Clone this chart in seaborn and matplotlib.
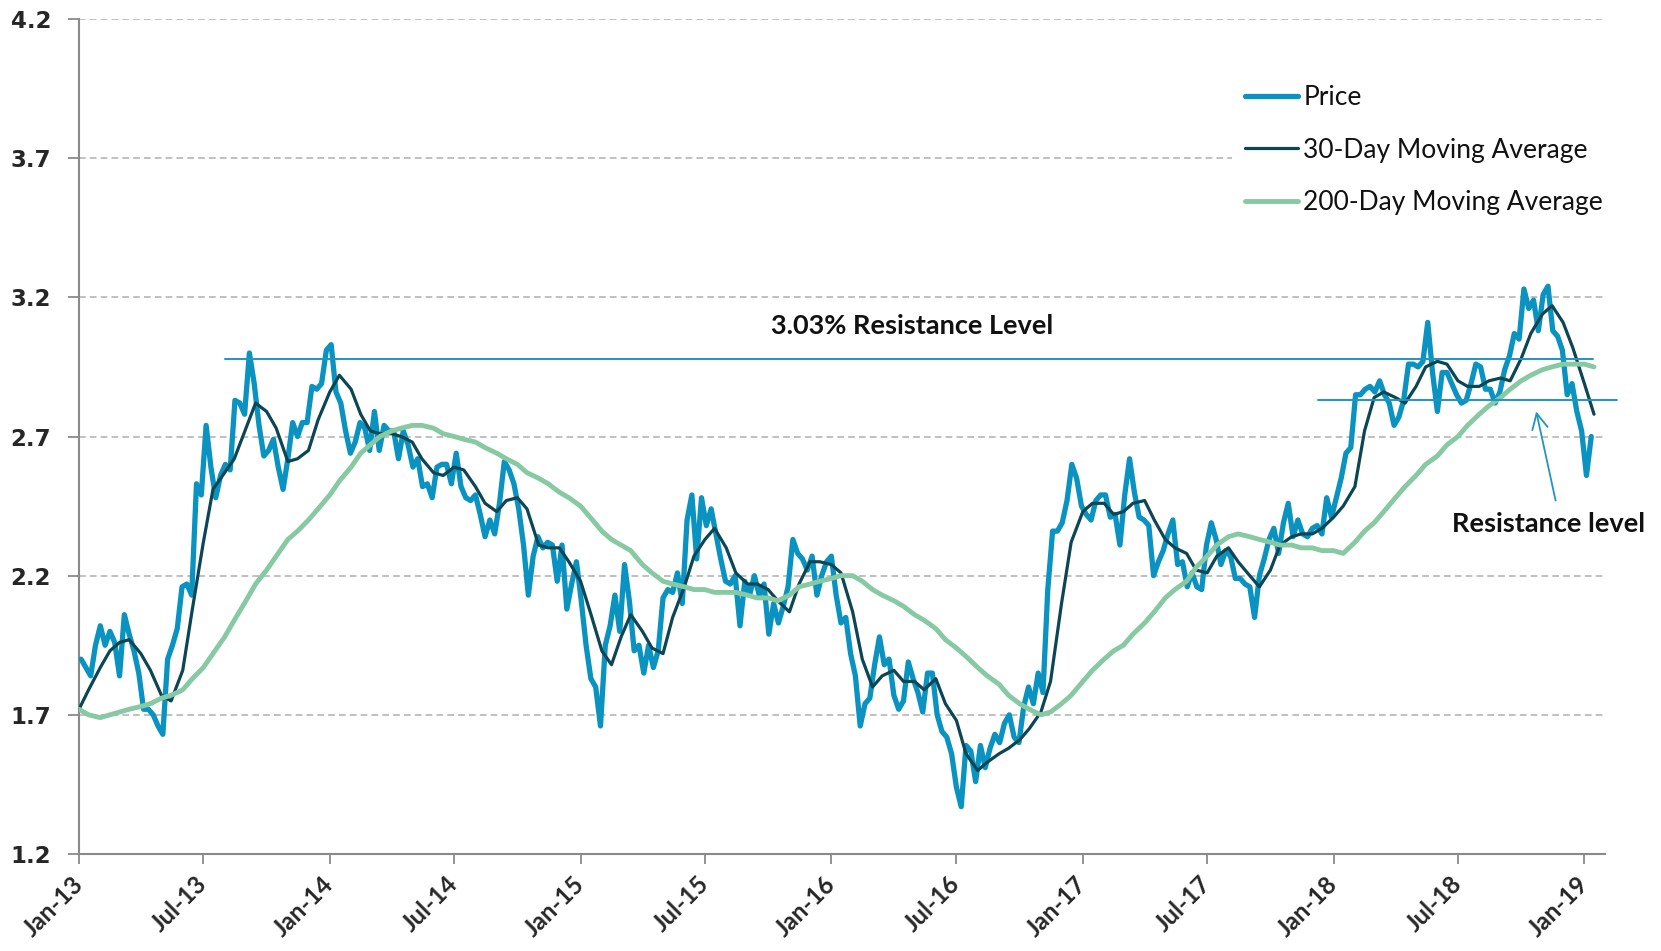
import pandas as pd
import matplotlib
matplotlib.use("Agg")
import matplotlib.pyplot as plt
import matplotlib.transforms as mtransforms
import seaborn as sns

# ---------------- data ----------------
# Weekly (Friday) 10-year yield "price", starting 2013-01-04
price_2013 = [1.90, 1.87, 1.84, 1.95, 2.02, 1.95, 2.00, 1.96, 1.84, 2.06, 1.99, 1.93, 1.85,
              1.72, 1.72, 1.70, 1.66, 1.63, 1.90, 1.95, 2.01, 2.16, 2.17, 2.13, 2.53, 2.49,
              2.74, 2.59, 2.48, 2.56, 2.60, 2.58, 2.83, 2.82, 2.78, 3.00, 2.89, 2.74, 2.63,
              2.65, 2.69, 2.59, 2.51, 2.62, 2.75, 2.70, 2.75, 2.75, 2.88, 2.87, 2.89, 3.01]
price_2014 = [3.03, 2.86, 2.82, 2.72, 2.64, 2.68, 2.75, 2.73, 2.65, 2.79, 2.65, 2.74, 2.72,
              2.72, 2.62, 2.72, 2.67, 2.59, 2.62, 2.52, 2.53, 2.48, 2.59, 2.60, 2.60, 2.53,
              2.64, 2.52, 2.48, 2.47, 2.49, 2.42, 2.34, 2.40, 2.35, 2.46, 2.61, 2.58, 2.53,
              2.44, 2.31, 2.13, 2.27, 2.34, 2.30, 2.32, 2.31, 2.18, 2.31, 2.08, 2.17, 2.25]
price_2015 = [2.11, 1.95, 1.83, 1.80, 1.66, 1.95, 2.02, 2.13, 2.00, 2.24, 2.11, 1.93, 1.95,
              1.85, 1.95, 1.87, 1.93, 2.12, 2.15, 2.14, 2.21, 2.10, 2.40, 2.49, 2.26, 2.48,
              2.38, 2.44, 2.35, 2.26, 2.18, 2.17, 2.20, 2.02, 2.18, 2.13, 2.20, 2.13, 2.17,
              1.99, 2.10, 2.03, 2.09, 2.16, 2.33, 2.28, 2.26, 2.22, 2.27, 2.13, 2.20, 2.25]
price_2016 = [2.27, 2.13, 2.03, 2.05, 1.92, 1.84, 1.66, 1.74, 1.76, 1.88, 1.98, 1.88, 1.90,
              1.77, 1.72, 1.75, 1.89, 1.83, 1.78, 1.71, 1.85, 1.85, 1.70, 1.64, 1.62, 1.56,
              1.44, 1.37, 1.59, 1.57, 1.46, 1.59, 1.51, 1.58, 1.63, 1.60, 1.67, 1.70, 1.62,
              1.60, 1.73, 1.80, 1.74, 1.85, 1.78, 2.15, 2.36, 2.36, 2.39, 2.47, 2.60, 2.55, 2.45]
price_2017 = [2.42, 2.40, 2.47, 2.49, 2.49, 2.41, 2.42, 2.31, 2.49, 2.62, 2.50, 2.41, 2.40,
              2.38, 2.20, 2.25, 2.29, 2.35, 2.40, 2.24, 2.25, 2.16, 2.21, 2.16, 2.15, 2.31,
              2.39, 2.33, 2.24, 2.29, 2.27, 2.19, 2.19, 2.17, 2.16, 2.05, 2.20, 2.26, 2.33,
              2.37, 2.28, 2.39, 2.46, 2.34, 2.40, 2.35, 2.34, 2.37, 2.38, 2.35, 2.48, 2.41]
price_2018 = [2.48, 2.55, 2.64, 2.66, 2.85, 2.85, 2.87, 2.88, 2.86, 2.90, 2.85, 2.82, 2.74,
              2.77, 2.83, 2.96, 2.96, 2.95, 2.97, 3.11, 2.93, 2.79, 2.93, 2.93, 2.89, 2.85,
              2.82, 2.83, 2.89, 2.96, 2.95, 2.87, 2.87, 2.82, 2.86, 2.94, 2.99, 3.07, 3.05,
              3.23, 3.16, 3.19, 3.08, 3.21, 3.24, 3.08, 3.06, 3.01, 2.85, 2.89, 2.79, 2.72]
price_2019 = [2.56, 2.70]

# 30-day moving average, twice a month (1st and 15th) from 2013-01-01
ma30_2013 = [1.72, 1.79, 1.87, 1.93, 1.96, 1.97, 1.92, 1.86, 1.77, 1.75, 1.86, 2.08,
             2.32, 2.51, 2.57, 2.62, 2.73, 2.82, 2.79, 2.73, 2.61, 2.62, 2.65, 2.76]
ma30_2014 = [2.86, 2.92, 2.87, 2.78, 2.72, 2.71, 2.71, 2.70, 2.68, 2.62, 2.57, 2.56,
             2.59, 2.58, 2.52, 2.46, 2.43, 2.47, 2.48, 2.44, 2.31, 2.30, 2.30, 2.25]
ma30_2015 = [2.18, 2.07, 1.93, 1.88, 1.98, 2.06, 2.00, 1.94, 1.92, 2.05, 2.16, 2.27,
             2.33, 2.37, 2.30, 2.21, 2.17, 2.17, 2.15, 2.11, 2.07, 2.17, 2.25, 2.25]
ma30_2016 = [2.24, 2.21, 2.07, 1.90, 1.80, 1.84, 1.86, 1.82, 1.82, 1.79, 1.83, 1.74,
             1.68, 1.56, 1.50, 1.53, 1.56, 1.58, 1.61, 1.65, 1.71, 1.82, 2.10, 2.32]
ma30_2017 = [2.43, 2.46, 2.46, 2.42, 2.43, 2.46, 2.47, 2.40, 2.33, 2.30, 2.28, 2.22,
             2.21, 2.27, 2.30, 2.25, 2.20, 2.16, 2.22, 2.31, 2.34, 2.35, 2.35, 2.37]
ma30_2018 = [2.41, 2.45, 2.52, 2.72, 2.84, 2.86, 2.84, 2.82, 2.88, 2.95, 2.97, 2.96,
             2.90, 2.88, 2.88, 2.90, 2.91, 2.90, 2.98, 3.07, 3.14, 3.17, 3.11, 3.02]
ma30_2019 = [2.89, 2.78]

# 200-day moving average, twice a month (1st and 15th) from 2013-01-01
ma200_2013 = [1.72, 1.70, 1.69, 1.70, 1.71, 1.72, 1.73, 1.74, 1.76, 1.77, 1.79, 1.83,
              1.87, 1.92, 1.98, 2.04, 2.11, 2.17, 2.22, 2.27, 2.33, 2.36, 2.40, 2.44]
ma200_2014 = [2.49, 2.54, 2.59, 2.64, 2.67, 2.70, 2.72, 2.73, 2.74, 2.74, 2.73, 2.71,
              2.70, 2.69, 2.68, 2.66, 2.64, 2.62, 2.60, 2.57, 2.55, 2.53, 2.50, 2.48]
ma200_2015 = [2.45, 2.41, 2.36, 2.33, 2.31, 2.29, 2.24, 2.21, 2.18, 2.17, 2.16, 2.15,
              2.15, 2.14, 2.14, 2.14, 2.13, 2.12, 2.12, 2.11, 2.13, 2.16, 2.17, 2.18]
ma200_2016 = [2.19, 2.20, 2.20, 2.18, 2.15, 2.13, 2.11, 2.09, 2.06, 2.04, 2.01, 1.97,
              1.94, 1.91, 1.87, 1.84, 1.81, 1.77, 1.74, 1.72, 1.70, 1.71, 1.74, 1.77]
ma200_2017 = [1.82, 1.86, 1.90, 1.93, 1.95, 1.99, 2.03, 2.07, 2.12, 2.15, 2.18, 2.23,
              2.27, 2.31, 2.34, 2.35, 2.34, 2.33, 2.32, 2.31, 2.31, 2.30, 2.30, 2.29]
ma200_2018 = [2.29, 2.28, 2.32, 2.36, 2.39, 2.43, 2.48, 2.52, 2.56, 2.60, 2.63, 2.67,
              2.70, 2.74, 2.78, 2.81, 2.84, 2.87, 2.90, 2.92, 2.94, 2.95, 2.96, 2.96]
ma200_2019 = [2.96, 2.95]

series_labels = ["Price", "30-Day Moving Average", "200-Day Moving Average"]
y_ticks = [1.2, 1.7, 2.2, 2.7, 3.2, 3.7, 4.2]
x_tick_labels = ["Jan-13", "Jul-13", "Jan-14", "Jul-14", "Jan-15", "Jul-15", "Jan-16",
                 "Jul-16", "Jan-17", "Jul-17", "Jan-18", "Jul-18", "Jan-19"]
resistance_levels = [2.98, 2.83]
resistance_starts = ["2013-08-01", "2017-12-09"]
resistance_ends = ["2019-01-14", "2019-02-17"]
main_label = "3.03% Resistance Level"
arrow_label = "Resistance level"

# ---------------- build frames ----------------
price = price_2013 + price_2014 + price_2015 + price_2016 + price_2017 + price_2018 + price_2019
ma30 = ma30_2013 + ma30_2014 + ma30_2015 + ma30_2016 + ma30_2017 + ma30_2018 + ma30_2019
ma200 = ma200_2013 + ma200_2014 + ma200_2015 + ma200_2016 + ma200_2017 + ma200_2018 + ma200_2019

price_df = pd.DataFrame({"date": pd.date_range("2013-01-04", periods=len(price), freq="W-FRI"),
                         "value": price})
ma30_df = pd.DataFrame({"date": pd.date_range("2013-01-01", periods=len(ma30), freq="SMS"),
                        "value": ma30})
ma200_df = pd.DataFrame({"date": pd.date_range("2013-01-01", periods=len(ma200), freq="SMS"),
                         "value": ma200})

# ---------------- style ----------------
sns.set_theme(style="white")
plt.rcParams["font.family"] = ["Lato", "DejaVu Sans"]

C_PRICE = "#0a93c0"
C_MA30 = "#0c4654"
C_MA200 = "#86c9a2"
C_RES = "#1e95c3"
C_AXIS = "#8a8a8a"

fig = plt.figure(figsize=(16.61, 9.51), dpi=100)
ax = fig.add_axes([79 / 1661, 1 - 854 / 951, (1605 - 79) / 1661, (854 - 19) / 951])

sns.lineplot(data=price_df, x="date", y="value", ax=ax, color=C_PRICE, lw=3.8,
             label=series_labels[0], solid_joinstyle="round", zorder=3)
sns.lineplot(data=ma30_df, x="date", y="value", ax=ax, color=C_MA30, lw=2.3,
             label=series_labels[1], zorder=4)
sns.lineplot(data=ma200_df, x="date", y="value", ax=ax, color=C_MA200, lw=3.5,
             label=series_labels[2], zorder=5)

# resistance lines
for lvl, s, e in zip(resistance_levels, resistance_starts, resistance_ends):
    ax.plot([pd.Timestamp(s), pd.Timestamp(e)], [lvl, lvl], color=C_RES, lw=1.4,
            clip_on=False, zorder=6)

ax.text(pd.Timestamp("2016-04-27"), 3.096, main_label, ha="center", va="center",
        fontsize=19.5, fontweight="bold", color="#111111")
ax.text(pd.Timestamp("2018-11-10"), 2.385, arrow_label, ha="center", va="center",
        fontsize=19.5, fontweight="bold", color="#111111")
ax.annotate("", xy=(pd.Timestamp("2018-10-22"), 2.80),
            xytext=(pd.Timestamp("2018-11-21"), 2.46),
            arrowprops=dict(arrowstyle="->", color=C_RES, lw=1.3, mutation_scale=28))

# axes
ax.set_xlim(pd.Timestamp("2013-01-01"), pd.Timestamp("2019-01-31"))
ax.set_ylim(1.2, 4.2)
ax.set_yticks(y_ticks)
ax.set_yticklabels([f"{t:.1f}" for t in y_ticks], family="DejaVu Sans",
                   fontweight="bold", fontsize=16.5)
x_tick_dates = pd.date_range("2013-01-01", periods=len(x_tick_labels), freq="6MS")
ax.set_xticks(x_tick_dates)
ax.set_xticklabels(x_tick_labels, rotation=45, ha="right", va="center",
                   rotation_mode="anchor", fontweight="bold", fontsize=17.5)
shift = mtransforms.ScaledTranslation(5 / 100, -7 / 100, fig.dpi_scale_trans)
for lbl in ax.get_xticklabels():
    lbl.set_transform(lbl.get_transform() + shift)
ax.set_xlabel("")
ax.set_ylabel("")

ax.tick_params(axis="x", direction="out", length=7, width=1.3, color=C_AXIS, pad=12,
               bottom=True)
ax.tick_params(axis="y", direction="out", length=8, width=1.3, color=C_AXIS, pad=12,
               left=True)
ax.yaxis.grid(True, linestyle=(0, (4, 2.5)), color="#b5b5b5", lw=1.2)
ax.xaxis.grid(False)
ax.set_axisbelow(True)
for side in ["top", "right"]:
    ax.spines[side].set_visible(False)
for side in ["left", "bottom"]:
    ax.spines[side].set_color(C_AXIS)
    ax.spines[side].set_linewidth(1.5)

leg = ax.legend(loc="upper left", bbox_to_anchor=(0.7556, 0.937), frameon=True,
                facecolor="white", edgecolor="none", framealpha=1, fontsize=19,
                handlelength=2.0, handletextpad=0.2, labelspacing=1.05, borderpad=0.5,
                borderaxespad=0)
leg.set_zorder(10)
for t in leg.get_texts():
    t.set_color("#111111")

fig.savefig("out.png", dpi=100)
